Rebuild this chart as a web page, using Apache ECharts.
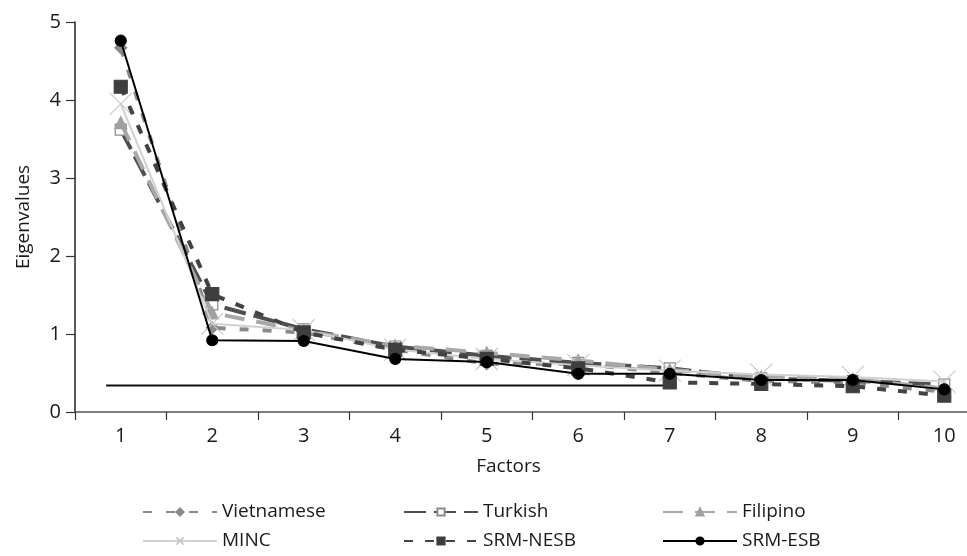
<!DOCTYPE html>
<html>
<head>
<meta charset="utf-8">
<script src="https://cdn.jsdelivr.net/npm/echarts@6/dist/echarts.min.js"></script>
<style>
html,body{margin:0;padding:0;background:#fff;}
#c{width:967px;height:556px;}
</style>
</head>
<body>
<div id="c"></div>
<script>
// ---- data ----
var factors = ['1','2','3','4','5','6','7','8','9','10'];
var vietnamese = [4.67, 1.08, 1.02, 0.80, 0.62, 0.62, 0.50, 0.40, 0.38, 0.26];
var turkish    = [3.62, 1.38, 1.06, 0.84, 0.72, 0.63, 0.56, 0.43, 0.40, 0.35];
var filipino   = [3.71, 1.27, 1.04, 0.85, 0.76, 0.66, 0.54, 0.45, 0.42, 0.30];
var minc       = [3.95, 1.13, 1.05, 0.80, 0.68, 0.60, 0.53, 0.48, 0.45, 0.39];
var srmNesb    = [4.17, 1.51, 1.02, 0.80, 0.68, 0.56, 0.38, 0.36, 0.33, 0.21];
var srmEsb     = [4.76, 0.92, 0.91, 0.68, 0.64, 0.49, 0.49, 0.41, 0.41, 0.29];
var thresholdX = [0.84, 7];
var thresholdY = 0.34;
var yTicks = [0, 1, 2, 3, 4, 5];

var FONT = 'Open Sans';
var chart = echarts.init(document.getElementById('c'), null, {renderer: 'canvas'});

function lineSeries(name, data, color, width, dash, symbol, symSize, fill, border, z) {
  return {
    name: name, type: 'line', data: data, z: z,
    xAxisIndex: 0, yAxisIndex: 0,
    symbol: symbol, symbolSize: symSize, showSymbol: true,
    lineStyle: {color: color, width: width, type: dash},
    itemStyle: {color: fill, borderColor: border, borderWidth: 1.2},
    emphasis: {disabled: true},
    animation: false
  };
}

var legendText = {fontFamily: FONT, fontSize: 19, color: '#1a1a1a', lineHeight: 20};
function colLegend(left, names) {
  return {
    orient: 'vertical', left: left, top: 502, padding: 0,
    itemWidth: 74, itemHeight: 9, itemGap: 9,
    textStyle: legendText, data: names, selectedMode: false
  };
}

var option = {
  backgroundColor: '#fff',
  animation: false,
  grid: {left: 75, top: 22, width: 915, height: 390, containLabel: false, outerBoundsMode: 'none'},
  legend: [
    colLegend(142, ['Vietnamese', 'MINC']),
    colLegend(403, ['Turkish', 'SRM-NESB']),
    colLegend(662, ['Filipino', 'SRM-ESB'])
  ],
  xAxis: [{
    type: 'category', data: factors, boundaryGap: true,
    name: 'Factors', nameLocation: 'middle', nameGap: 45,
    nameTextStyle: {fontFamily: FONT, fontSize: 19, color: '#1a1a1a', padding: [0, 48, 0, 0]},
    axisLine: {lineStyle: {color: '#555', width: 1.5}},
    axisTick: {show: true, length: 8, lineStyle: {color: '#333', width: 1.2}},
    axisLabel: {fontFamily: FONT, fontSize: 20, color: '#1a1a1a', margin: 14},
    splitLine: {show: false}
  }, {
    type: 'value', show: false, min: 0.5, max: 10.5
  }],
  yAxis: {
    type: 'value', min: yTicks[0], max: yTicks[yTicks.length - 1], interval: 1,
    name: 'Eigenvalues', nameLocation: 'middle', nameGap: 42,
    nameTextStyle: {fontFamily: FONT, fontSize: 19, color: '#1a1a1a'},
    axisLine: {show: true, lineStyle: {color: '#222', width: 1.5}},
    axisTick: {show: true, length: 9, lineStyle: {color: '#333', width: 1.2}},
    axisLabel: {fontFamily: FONT, fontSize: 20, color: '#1a1a1a', margin: 14},
    splitLine: {show: false}
  },
  series: [
    {
      name: 'threshold', type: 'line', xAxisIndex: 1, yAxisIndex: 0,
      data: [[thresholdX[0], thresholdY], [thresholdX[1], thresholdY]],
      symbol: 'none', lineStyle: {color: '#111', width: 2}, z: 1,
      emphasis: {disabled: true}, silent: true
    },
    lineSeries('Vietnamese', vietnamese, '#8a8a8a', 4, [9, 14], 'diamond', 12, '#8a8a8a', '#8a8a8a', 2),
    lineSeries('Turkish', turkish, '#4f4f4f', 4, [22, 8], 'rect', 11, '#ffffff', '#8a8a8a', 3),
    lineSeries('Filipino', filipino, '#a8a8a8', 4, [20, 12], 'triangle', 12, '#a0a0a0', '#a0a0a0', 4),
    lineSeries('MINC', minc, '#d0d0d0', 2, 'solid', 'path://M0,0L10,10M10,0L0,10', 22, '#c8c8c8', '#c8c8c8', 5),
    lineSeries('SRM-NESB', srmNesb, '#424242', 4, [9, 12], 'rect', 13, '#3e3e3e', '#3e3e3e', 6),
    lineSeries('SRM-ESB', srmEsb, '#000000', 2, 'solid', 'circle', 11, '#000000', '#000000', 7)
  ]
};
chart.setOption(option);
</script>
</body>
</html>
